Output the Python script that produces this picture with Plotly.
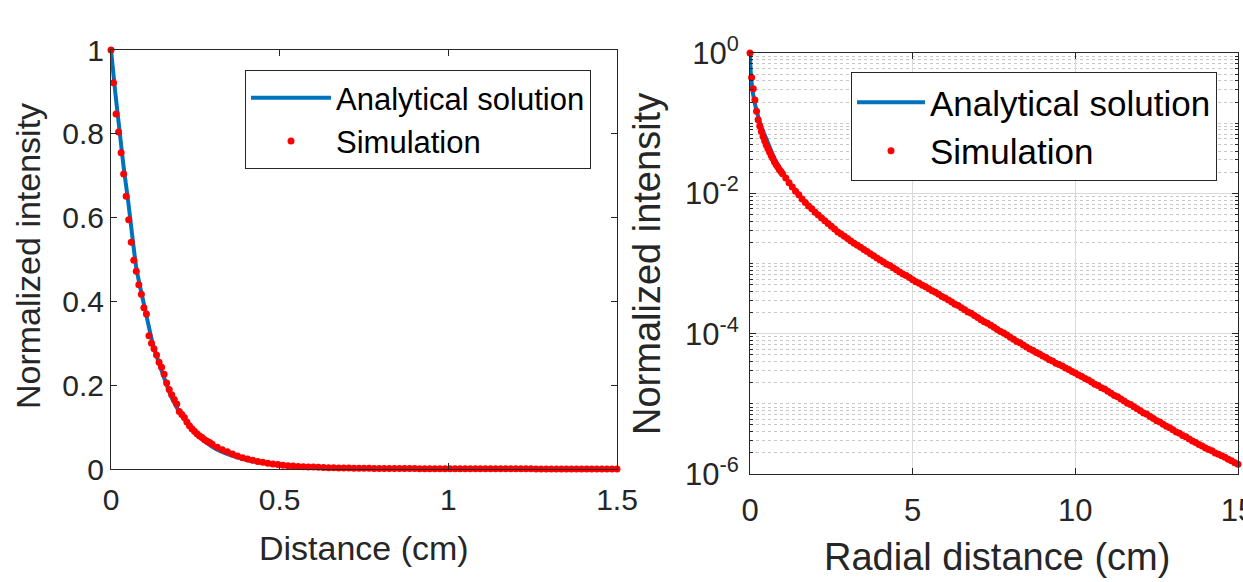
import plotly.graph_objects as go

# ---------------- Left panel data (linear axes) ----------------
left_ana_x = [0, 0.0125, 0.025, 0.0375, 0.05, 0.0625, 0.075, 0.0875, 0.1, 0.125, 0.15, 0.175, 0.2,
              0.25, 0.3, 0.35, 0.4, 0.45, 0.5, 0.6, 0.7, 0.8, 1.0, 1.25, 1.5]
left_ana_y = [1.0, 0.90, 0.81, 0.72, 0.645, 0.56, 0.48, 0.43, 0.385, 0.295, 0.235, 0.18, 0.14,
              0.085, 0.053, 0.034, 0.022, 0.014, 0.009, 0.004, 0.0018, 0.0008, 0.0002, 0.00004, 0.00001]

left_sim_x = [0, 0.0075, 0.015, 0.0225, 0.03, 0.0375, 0.045, 0.0525, 0.06, 0.0675, 0.075, 0.0825,
              0.09, 0.0975, 0.105, 0.1125, 0.12, 0.1275, 0.135, 0.1425, 0.15, 0.1575, 0.165, 0.1725,
              0.18, 0.1875, 0.195, 0.2025, 0.21, 0.2175, 0.225, 0.2325, 0.24, 0.2475, 0.255, 0.2625,
              0.27, 0.2775, 0.285, 0.2925, 0.3,
              0.315, 0.33, 0.345, 0.36, 0.375, 0.39, 0.405, 0.42, 0.435, 0.45, 0.465, 0.48, 0.495,
              0.51, 0.525, 0.54, 0.555, 0.57, 0.585, 0.6, 0.615, 0.63, 0.645, 0.66, 0.675, 0.69,
              0.705, 0.72, 0.735, 0.75, 0.765, 0.78, 0.795, 0.81, 0.825, 0.84, 0.855, 0.87, 0.885,
              0.9, 0.915, 0.93, 0.945, 0.96, 0.975, 0.99, 1.005, 1.02, 1.035, 1.05, 1.065, 1.08,
              1.095, 1.11, 1.125, 1.14, 1.155, 1.17, 1.185, 1.2, 1.215, 1.23, 1.245, 1.26, 1.275,
              1.29, 1.305, 1.32, 1.335, 1.35, 1.365, 1.38, 1.395, 1.41, 1.425, 1.44, 1.455, 1.47,
              1.485, 1.5]
left_sim_y = [1.000, 0.922, 0.847, 0.804, 0.755, 0.704, 0.651, 0.595, 0.541, 0.498, 0.472, 0.440,
              0.417, 0.385, 0.370, 0.318, 0.300, 0.287, 0.272, 0.255, 0.243, 0.226, 0.205, 0.190,
              0.177, 0.166, 0.155, 0.137, 0.130, 0.123, 0.112, 0.103, 0.096, 0.090, 0.084, 0.079,
              0.075, 0.070, 0.066, 0.063, 0.059,
              0.052, 0.046, 0.041, 0.036, 0.031, 0.027, 0.024, 0.021, 0.018, 0.016, 0.014, 0.012,
              0.011, 0.009, 0.008, 0.007, 0.006, 0.0055, 0.005, 0.0045, 0.004, 0.0036, 0.0032,
              0.0029, 0.0026, 0.0023, 0.0021, 0.0019, 0.0017, 0.0016,
              0.0015, 0.0014, 0.0013, 0.0012, 0.0012, 0.0011, 0.0010, 0.0010, 0.0009, 0.0009,
              0.0008, 0.0008, 0.0007, 0.0007, 0.0007, 0.0006, 0.0006, 0.0006, 0.0005, 0.0005,
              0.0005, 0.0005, 0.0004, 0.0004, 0.0004, 0.0004, 0.0004, 0.0003, 0.0003, 0.0003,
              0.0003, 0.0003, 0.0003, 0.0002, 0.0002, 0.0002, 0.0002, 0.0002, 0.0002, 0.0002,
              0.0002, 0.0001, 0.0001, 0.0001, 0.0001, 0.0001, 0.0001, 0.0001, 0.0001, 0.0001]

left_xticks = [0, 0.5, 1, 1.5]
left_xticklabels = ["0", "0.5", "1", "1.5"]
left_yticks = [0, 0.2, 0.4, 0.6, 0.8, 1]
left_yticklabels = ["0", "0.2", "0.4", "0.6", "0.8", "1"]

# ---------------- Right panel data (log y axis, values read as log10) ----------------
right_ana_x = [0, 0.02, 0.05, 0.1, 0.15, 0.2, 0.3, 0.4, 0.5, 0.75, 1, 1.5, 2, 3, 4, 5, 6, 8, 10,
               12, 14, 15]
right_ana_log10 = [0, -0.25, -0.42, -0.60, -0.72, -0.82, -0.98, -1.11, -1.22, -1.50, -1.71, -2.02,
                   -2.27, -2.645, -2.95, -3.23, -3.49, -4.05, -4.56, -5.10, -5.63, -5.86]

right_sim_x = [0, 0.05, 0.1, 0.15, 0.2, 0.25, 0.3, 0.35, 0.4, 0.45, 0.5, 0.55, 0.6, 0.65, 0.7,
               0.75, 0.8, 0.85, 0.9, 0.95, 1.0,
               1.1, 1.2, 1.3, 1.4, 1.5, 1.6, 1.7, 1.8, 1.9, 2.0, 2.1, 2.2, 2.3, 2.4, 2.5, 2.6, 2.7,
               2.8, 2.9, 3.0, 3.1, 3.2, 3.3, 3.4, 3.5, 3.6, 3.7, 3.8, 3.9, 4.0, 4.1, 4.2, 4.3, 4.4,
               4.5, 4.6, 4.7, 4.8, 4.9, 5.0, 5.1, 5.2, 5.3, 5.4, 5.5, 5.6, 5.7, 5.8, 5.9, 6.0, 6.1,
               6.2, 6.3, 6.4, 6.5, 6.6, 6.7, 6.8, 6.9, 7.0, 7.1, 7.2, 7.3, 7.4, 7.5, 7.6, 7.7, 7.8,
               7.9, 8.0, 8.1, 8.2, 8.3, 8.4, 8.5, 8.6, 8.7, 8.8, 8.9, 9.0, 9.1, 9.2, 9.3, 9.4, 9.5,
               9.6, 9.7, 9.8, 9.9, 10.0, 10.1, 10.2, 10.3, 10.4, 10.5, 10.6, 10.7, 10.8, 10.9, 11.0,
               11.1, 11.2, 11.3, 11.4, 11.5, 11.6, 11.7, 11.8, 11.9, 12.0, 12.1, 12.2, 12.3, 12.4,
               12.5, 12.6, 12.7, 12.8, 12.9, 13.0, 13.1, 13.2, 13.3, 13.4, 13.5, 13.6, 13.7, 13.8,
               13.9, 14.0, 14.1, 14.2, 14.3, 14.4, 14.5, 14.6, 14.7, 14.8, 14.9, 15.0]
right_sim_log10 = [0, -0.35, -0.51, -0.67, -0.83, -0.95, -1.04, -1.12, -1.19, -1.25, -1.31, -1.36,
                   -1.41, -1.46, -1.50, -1.55, -1.59, -1.62, -1.66, -1.69, -1.72,
                   -1.78, -1.85, -1.91, -1.97, -2.02, -2.08, -2.13, -2.18, -2.22, -2.27, -2.31,
                   -2.35, -2.39, -2.43, -2.47, -2.51, -2.55, -2.58, -2.61, -2.645, -2.68, -2.71,
                   -2.74, -2.77, -2.80, -2.83, -2.86, -2.89, -2.92, -2.95, -2.98, -3.01, -3.03,
                   -3.06, -3.09, -3.12, -3.15, -3.17, -3.20, -3.23, -3.26, -3.28, -3.31, -3.33,
                   -3.36, -3.39, -3.41, -3.44, -3.47, -3.49, -3.52, -3.55, -3.58, -3.60, -3.63,
                   -3.66, -3.69, -3.71, -3.74, -3.77, -3.80, -3.83, -3.85, -3.88, -3.91, -3.94,
                   -3.97, -3.99, -4.02, -4.05, -4.08, -4.11, -4.13, -4.16, -4.19, -4.22, -4.24,
                   -4.27, -4.29, -4.32, -4.34, -4.37, -4.39, -4.42, -4.44, -4.46, -4.49, -4.51,
                   -4.54, -4.56, -4.59, -4.61, -4.64, -4.66, -4.69, -4.72, -4.74, -4.77, -4.79,
                   -4.82, -4.85, -4.88, -4.90, -4.93, -4.96, -4.99, -5.01, -5.04, -5.07, -5.10,
                   -5.13, -5.15, -5.18, -5.21, -5.24, -5.26, -5.29, -5.32, -5.34, -5.37, -5.40,
                   -5.42, -5.45, -5.47, -5.50, -5.53, -5.55, -5.58, -5.60, -5.63, -5.65, -5.67,
                   -5.70, -5.72, -5.74, -5.76, -5.79, -5.81, -5.84, -5.86]

right_xticks = [0, 5, 10, 15]
right_xticklabels = ["0", "5", "10", "15"]
right_yticks = [1e-6, 1e-4, 1e-2, 1]
right_yticklabels = ["10<sup>-6</sup>", "10<sup>-4</sup>", "10<sup>-2</sup>", "10<sup>0</sup>"]
right_minor_mult = [1, 2, 3, 4, 5, 6, 7, 8, 9]
right_minor_exp = [-6, -5, -4, -3, -2, -1]

series_names = ["Analytical solution", "Simulation"]

# ---------------- Styling ----------------
W, H = 1243, 582
FONT = "Liberation Sans, Arial, Helvetica, sans-serif"
AXC = "#262626"
BLUE = "#0072BD"
RED = "#FF0000"

def px_x(p):
    return p / W

def px_y(p):
    return 1 - p / H

right_ana_y = [10 ** v for v in right_ana_log10]
right_sim_y = [10 ** v for v in right_sim_log10]
minor_vals = [m * 10 ** e for e in right_minor_exp for m in right_minor_mult]

fig = go.Figure()

fig.add_trace(go.Scatter(x=left_ana_x, y=left_ana_y, mode="lines", name=series_names[0],
                         line=dict(color=BLUE, width=4, shape="spline", smoothing=0.6),
                         xaxis="x", yaxis="y", legend="legend"))
fig.add_trace(go.Scatter(x=left_sim_x, y=left_sim_y, mode="markers", name=series_names[1],
                         marker=dict(color=RED, size=7), cliponaxis=False,
                         xaxis="x", yaxis="y", legend="legend"))
fig.add_trace(go.Scatter(x=right_ana_x, y=right_ana_y, mode="lines", name=series_names[0],
                         line=dict(color=BLUE, width=4, shape="spline", smoothing=0.6),
                         xaxis="x2", yaxis="y2", legend="legend2"))
fig.add_trace(go.Scatter(x=right_sim_x, y=right_sim_y, mode="markers", name=series_names[1],
                         marker=dict(color=RED, size=7), cliponaxis=False,
                         xaxis="x2", yaxis="y2", legend="legend2"))

common_axis = dict(showline=True, linecolor=AXC, linewidth=1, mirror="ticks", ticks="inside",
                   ticklen=6, tickcolor=AXC, zeroline=False, automargin=False,
                   ticklabeloverflow="allow")

fig.update_layout(
    width=W, height=H, template="none",
    margin=dict(l=0, r=0, t=0, b=0, pad=0),
    paper_bgcolor="white", plot_bgcolor="white",
    font=dict(family=FONT, color=AXC),
    xaxis=dict(domain=[px_x(111), px_x(617)], range=[0, 1.5], tickvals=left_xticks,
               ticktext=left_xticklabels, showgrid=False, anchor="y", ticklabelstandoff=4,
               tickfont=dict(size=30, color=AXC), **common_axis),
    yaxis=dict(domain=[px_y(469), px_y(50)], range=[0, 1], tickvals=left_yticks,
               ticktext=left_yticklabels, showgrid=False, anchor="x",
               tickfont=dict(size=30, color=AXC), **common_axis),
    xaxis2=dict(domain=[px_x(750), px_x(1238)], range=[0, 15], tickvals=right_xticks,
                ticktext=right_xticklabels, showgrid=True, gridcolor="#dadada", gridwidth=1,
                anchor="y2", ticklabelstandoff=9, tickfont=dict(size=31, color=AXC),
                **common_axis),
    yaxis2=dict(domain=[px_y(474), px_y(53)], type="log", range=[-6, 0], tickvals=right_yticks,
                ticktext=right_yticklabels, showgrid=True, gridcolor="#dadada", gridwidth=1,
                anchor="x2", ticklabelstandoff=4, tickfont=dict(size=31, color=AXC),
                minor=dict(tickmode="array", tickvals=minor_vals, ticks="inside", ticklen=3,
                           tickcolor=AXC, showgrid=True, gridcolor="#c8c8c8", griddash="dot",
                           gridwidth=1),
                **common_axis),
    legend=dict(x=px_x(245), y=px_y(70), xanchor="left", yanchor="top",
                bgcolor="white", bordercolor=AXC, borderwidth=1,
                font=dict(size=31, color="#000000", family=FONT), itemwidth=80,
                tracegroupgap=0),
    legend2=dict(x=px_x(851), y=px_y(72), xanchor="left", yanchor="top",
                 bgcolor="white", bordercolor=AXC, borderwidth=1,
                 font=dict(size=35, color="#000000", family=FONT), itemwidth=68,
                 tracegroupgap=0),
    showlegend=True,
    annotations=[
        dict(text="Normalized intensity", x=px_x(28), y=px_y(256), xref="paper", yref="paper",
             textangle=-90, showarrow=False, xanchor="center", yanchor="middle",
             font=dict(size=34, color=AXC)),
        dict(text="Distance (cm)", x=px_x(364), y=px_y(548), xref="paper", yref="paper",
             showarrow=False, xanchor="center", yanchor="middle", font=dict(size=34, color=AXC)),
        dict(text="Normalized intensity", x=px_x(647), y=px_y(264), xref="paper", yref="paper",
             textangle=-90, showarrow=False, xanchor="center", yanchor="middle",
             font=dict(size=38, color=AXC)),
        dict(text="Radial distance (cm)", x=px_x(997), y=px_y(557), xref="paper", yref="paper",
             showarrow=False, xanchor="center", yanchor="middle", font=dict(size=38, color=AXC)),
    ],
)

fig.write_html("out.html")
